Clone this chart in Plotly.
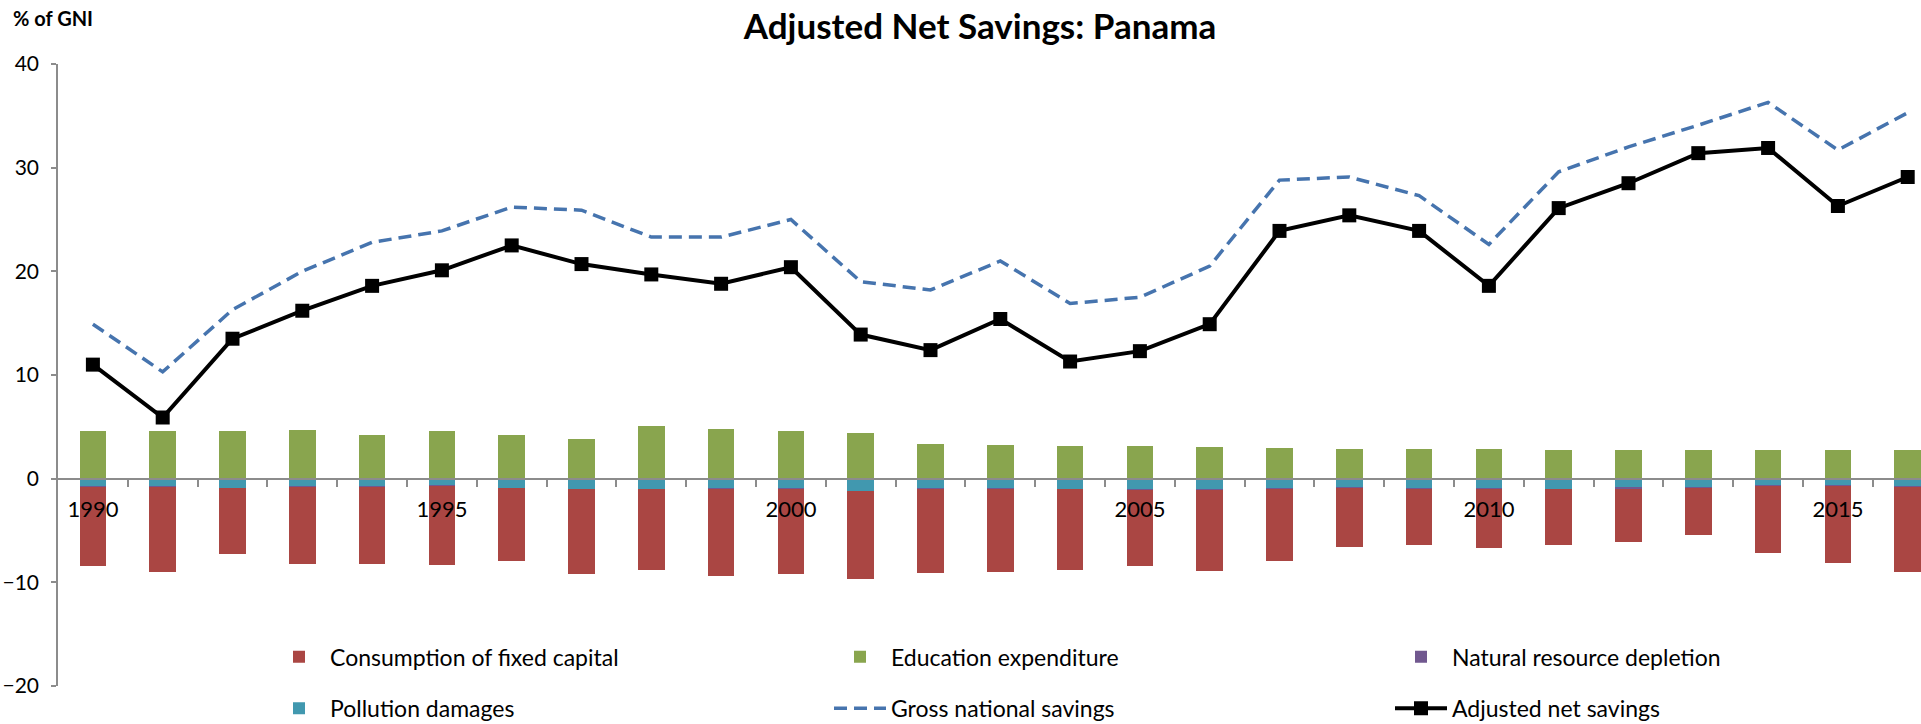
import plotly.graph_objects as go

# ---------------- data ----------------
years = [1990, 1991, 1992, 1993, 1994, 1995, 1996, 1997, 1998, 1999,
         2000, 2001, 2002, 2003, 2004, 2005, 2006, 2007, 2008, 2009,
         2010, 2011, 2012, 2013, 2014, 2015, 2016]
year_labels = ["1990", "1995", "2000", "2005", "2010", "2015"]
year_label_vals = [1990, 1995, 2000, 2005, 2010, 2015]

consumption_fixed_capital = [-7.66, -8.17, -6.33, -7.40, -7.40, -7.68, -7.01, -8.16, -7.78, -8.40,
                             -8.27, -8.46, -8.11, -8.02, -7.78, -7.30, -7.81, -6.95, -5.72, -5.37,
                             -5.67, -5.33, -5.10, -4.50, -6.43, -7.39, -8.17]
education_expenditure = [4.60, 4.60, 4.60, 4.69, 4.21, 4.60, 4.21, 3.79, 5.11, 4.79,
                         4.60, 4.41, 3.34, 3.25, 3.15, 3.15, 3.05, 2.96, 2.85, 2.83,
                         2.83, 2.75, 2.73, 2.73, 2.73, 2.73, 2.73]
natural_resource_depletion = [-0.01, -0.01, -0.01, -0.01, -0.01, -0.01, -0.01, -0.01, -0.01, -0.01,
                              -0.01, -0.01, -0.02, -0.05, -0.02, -0.02, -0.02, -0.02, -0.02, -0.02,
                              -0.08, -0.03, -0.15, -0.03, -0.02, -0.02, -0.02]
pollution_damages = [-0.80, -0.80, -0.90, -0.80, -0.80, -0.68, -0.90, -1.00, -1.00, -0.96,
                     -0.96, -1.19, -0.96, -0.97, -1.00, -1.06, -1.06, -0.96, -0.87, -0.96,
                     -0.95, -1.00, -0.85, -0.87, -0.68, -0.68, -0.80]
gross_national_savings = [14.9, 10.3, 16.3, 20.0, 22.8, 23.9, 26.2, 25.9, 23.3, 23.3,
                          25.0, 19.0, 18.2, 21.0, 16.9, 17.5, 20.5, 28.8, 29.1, 27.3,
                          22.6, 29.6, 32.0, 34.1, 36.3, 31.7, 35.3]
adjusted_net_savings = [11.0, 5.9, 13.5, 16.2, 18.6, 20.1, 22.5, 20.7, 19.7, 18.8,
                        20.4, 13.9, 12.4, 15.4, 11.3, 12.3, 14.9, 23.9, 25.4, 23.9,
                        18.6, 26.1, 28.5, 31.4, 31.9, 26.3, 29.1]

# ---------------- figure ----------------
FONT = "Lato"
W, H = 1921, 724
ML, MR, MT, MB = 58, 0, 63.5, 38.3
plot_w = W - ML - MR
plot_h = H - MT - MB
cat_px = 69.8
x_end = 1989.5 + plot_w / cat_px


def px_x(p):
    return (p - ML) / plot_w


def px_y(p):
    return (H - MB - p) / plot_h


bar_w = 0.38
fig = go.Figure()
fig.add_trace(go.Bar(x=years, y=pollution_damages, name="Pollution damages", width=bar_w,
                     marker=dict(color="#4198AF", line=dict(width=0)), legend="legend4"))
fig.add_trace(go.Bar(x=years, y=natural_resource_depletion, name="Natural resource depletion", width=bar_w,
                     marker=dict(color="#71588F", line=dict(width=0)), legend="legend3"))
fig.add_trace(go.Bar(x=years, y=consumption_fixed_capital, name="Consumption of fixed capital", width=bar_w,
                     marker=dict(color="#AA4643", line=dict(width=0)), legend="legend"))
fig.add_trace(go.Bar(x=years, y=education_expenditure, name="Education expenditure", width=bar_w,
                     marker=dict(color="#89A54E", line=dict(width=0)), legend="legend2"))
fig.add_trace(go.Scatter(x=years, y=gross_national_savings, name="Gross national savings", mode="lines",
                         line=dict(color="#4674AE", width=3.5, dash="13px,7px"), legend="legend5"))
fig.add_trace(go.Scatter(x=years, y=adjusted_net_savings, name="Adjusted net savings", mode="lines+markers",
                         line=dict(color="#000000", width=4),
                         marker=dict(symbol="square", size=14, color="#000000"), legend="legend6"))

legend_common = dict(orientation="h", xanchor="left", yanchor="middle", itemwidth=52,
                     bgcolor="rgba(0,0,0,0)", borderwidth=0,
                     font=dict(family=FONT, size=23, color="#000000"))
col_x = [268, 829, 1390]
row_y = [656.6, 708]

fig.update_layout(
    width=W, height=H,
    margin=dict(l=ML, r=MR, t=MT, b=MB, autoexpand=False),
    paper_bgcolor="white", plot_bgcolor="white",
    font=dict(family=FONT, color="#000000"),
    barmode="relative", bargap=0,
    showlegend=True,
    title=dict(text="<b>Adjusted Net Savings: Panama</b>", x=980 / W, xref="container",
               y=1 - 27 / H, yref="container", xanchor="center", yanchor="middle",
               font=dict(family=FONT, size=35, color="#000000")),
    legend=dict(x=px_x(col_x[0]), y=px_y(row_y[0]), **legend_common),
    legend2=dict(x=px_x(col_x[1]), y=px_y(row_y[0]), **legend_common),
    legend3=dict(x=px_x(col_x[2]), y=px_y(row_y[0]), **legend_common),
    legend4=dict(x=px_x(col_x[0]), y=px_y(row_y[1]), **legend_common),
    legend5=dict(x=px_x(col_x[1]), y=px_y(row_y[1]), **legend_common),
    legend6=dict(x=px_x(col_x[2]), y=px_y(row_y[1]), **legend_common),
    xaxis=dict(range=[1989.5, x_end], anchor="free", position=20 / 60,
               showline=True, linecolor="#8C8C8C", linewidth=2,
               showgrid=False, zeroline=False,
               tickmode="array", tickvals=year_label_vals, ticktext=year_labels,
               ticks="", ticklabelstandoff=11,
               tickfont=dict(family=FONT, size=22, color="#000000"),
               minor=dict(tickmode="array", tickvals=[y + 0.5 for y in years[:-1]],
                          ticks="outside", ticklen=7, tickwidth=1.5, tickcolor="#8C8C8C"),
               layer="above traces"),
    yaxis=dict(range=[-20, 40], tickmode="array", tickvals=[-20, -10, 0, 10, 20, 30, 40],
               showline=True, linecolor="#8C8C8C", linewidth=1.5,
               ticks="outside", ticklen=5, tickwidth=1.5, tickcolor="#8C8C8C",
               ticklabelstandoff=8,
               showgrid=False, zeroline=False,
               tickfont=dict(family=FONT, size=21, color="#000000")),
    annotations=[dict(text="<b>% of GNI</b>", xref="paper", yref="paper",
                      x=px_x(11), y=px_y(17.5), xanchor="left", yanchor="middle",
                      showarrow=False, font=dict(family=FONT, size=20, color="#000000"))],
)

fig.write_html("out.html",
               config={"displayModeBar": False},
               post_script="document.body.style.margin='0';document.body.style.overflow='hidden';")
